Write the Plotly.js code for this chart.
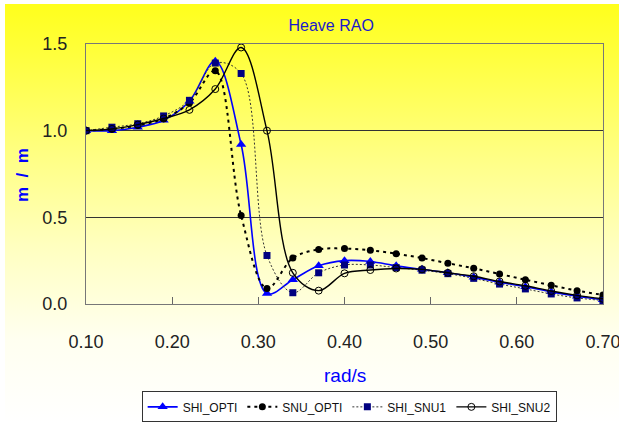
<!DOCTYPE html>
<html>
<head>
<meta charset="utf-8">
<script src="https://cdn.plot.ly/plotly-3.0.1.min.js"></script>
<style>
  html, body { margin: 0; padding: 0; background: #ffffff; }
  #wrap { position: relative; width: 619px; height: 423px; overflow: hidden; }
  #bg { position: absolute; left: 5px; top: 4px; width: 614px; height: 419px;
        background: linear-gradient(to bottom, #ffff1c 0%, #ffff3c 12%, #ffff80 35%, #ffffc0 58%, #fffff0 80%, #ffffff 100%); }
  #chart { position: absolute; left: 0; top: 0; width: 619px; height: 423px; }
</style>
</head>
<body>
<div id="wrap"><div id="bg"></div><div id="chart"></div></div>
<script>
const freq = [0.10,0.13,0.16,0.19,0.22,0.25,0.28,0.31,0.34,0.37,0.40,0.43,0.46,0.49,0.52,0.55,0.58,0.61,0.64,0.67,0.70];
const shiOpti = [1.00,1.00,1.02,1.06,1.17,1.40,0.92,0.06,0.14,0.22,0.25,0.245,0.22,0.20,0.18,0.155,0.125,0.10,0.07,0.045,0.025];
const snuOpti = [1.00,1.01,1.03,1.07,1.16,1.345,0.51,0.09,0.265,0.315,0.32,0.31,0.29,0.265,0.235,0.206,0.173,0.14,0.108,0.077,0.052];
const shiSnu1 = [1.00,1.02,1.04,1.085,1.175,1.39,1.33,0.28,0.065,0.18,0.225,0.225,0.21,0.195,0.175,0.148,0.115,0.087,0.058,0.035,0.02];
const shiSnu2 = [1.00,1.01,1.035,1.07,1.12,1.24,1.48,1.00,0.18,0.077,0.177,0.196,0.205,0.20,0.18,0.16,0.13,0.105,0.075,0.05,0.03];
const seriesNames = ['SHI_OPTI','SNU_OPTI','SHI_SNU1','SHI_SNU2'];
const yTicks = [0.0,0.5,1.0,1.5];
const xTicks = [0.10,0.20,0.30,0.40,0.50,0.60,0.70];

const sans = '"Liberation Sans", Arial, sans-serif';

const traces = [
  { x: freq, y: shiOpti, name: seriesNames[0], mode: 'lines+markers',
    line: { color: '#0000ff', width: 1.6, shape: 'spline', smoothing: 1 },
    marker: { symbol: 'triangle-up', size: 9, color: '#0000ff' } },
  { x: freq, y: snuOpti, name: seriesNames[1], mode: 'lines+markers',
    line: { color: '#000000', width: 2, dash: '3px,4px', shape: 'spline', smoothing: 1 },
    marker: { symbol: 'circle', size: 7, color: '#000000' } },
  { x: freq, y: shiSnu1, name: seriesNames[2], mode: 'lines+markers',
    line: { color: '#333333', width: 1, dash: '2px,2px', shape: 'spline', smoothing: 1 },
    marker: { symbol: 'square', size: 7, color: '#000080' } },
  { x: freq, y: shiSnu2, name: seriesNames[3], mode: 'lines+markers',
    line: { color: '#000000', width: 1.4, shape: 'spline', smoothing: 1 },
    marker: { symbol: 'circle-open', size: 7, color: '#000000', line: { width: 1, color: '#000000' } } }
];

const layout = {
  width: 619, height: 423,
  margin: { l: 86, r: 16, t: 44, b: 119, autoexpand: false },
  paper_bgcolor: 'rgba(0,0,0,0)',
  plot_bgcolor: 'rgba(0,0,0,0)',
  showlegend: true,
  title: { text: 'Heave RAO', x: 0.535, xanchor: 'center', xref: 'container',
           y: 0.94, yanchor: 'middle', yref: 'container',
           font: { family: sans, size: 16, color: '#1a1acc' } },
  xaxis: { range: [0.0999, 0.7001], tickvals: xTicks, ticktext: xTicks.map(v => v.toFixed(2)),
           showgrid: false, zeroline: false,
           showline: true, linecolor: '#777777', linewidth: 1, mirror: true,
           ticks: 'inside', ticklen: 7, tickcolor: '#666666',
           ticklabelstandoff: 21, ticklabeloverflow: 'allow',
           tickfont: { family: sans, size: 18, color: '#222222' } },
  yaxis: { range: [0, 1.5], tickvals: yTicks, ticktext: yTicks.map(v => v.toFixed(1)),
           showgrid: true, gridcolor: '#333333', gridwidth: 1, zeroline: false,
           showline: true, linecolor: '#777777', linewidth: 1, mirror: true,
           ticks: '', ticklabelstandoff: 14,
           tickfont: { family: sans, size: 18, color: '#222222' } },
  legend: { orientation: 'h', x: 0.509, xanchor: 'center', y: -0.336, yanchor: 'top',
            bgcolor: '#ffffff', bordercolor: '#333333', borderwidth: 1,
            font: { family: sans, size: 12, color: '#111111' },
            itemwidth: 30, tracegroupgap: 0 },
  annotations: [
    { text: 'rad/s', xref: 'paper', yref: 'paper', x: 0.5, y: (304 - 375) / 260,
      xanchor: 'center', yanchor: 'middle', showarrow: false,
      font: { family: sans, size: 19, color: '#0000ff' } },
    { text: '<b>m&nbsp; /&nbsp; m</b>', xref: 'paper', yref: 'paper', x: (22 - 86) / 517, y: (304 - 175) / 260,
      xanchor: 'center', yanchor: 'middle', showarrow: false, textangle: -90,
      font: { family: sans, size: 17, color: '#0000ff' } }
  ]
};

Plotly.newPlot('chart', traces, layout, { displayModeBar: false, staticPlot: true });
</script>
</body>
</html>
